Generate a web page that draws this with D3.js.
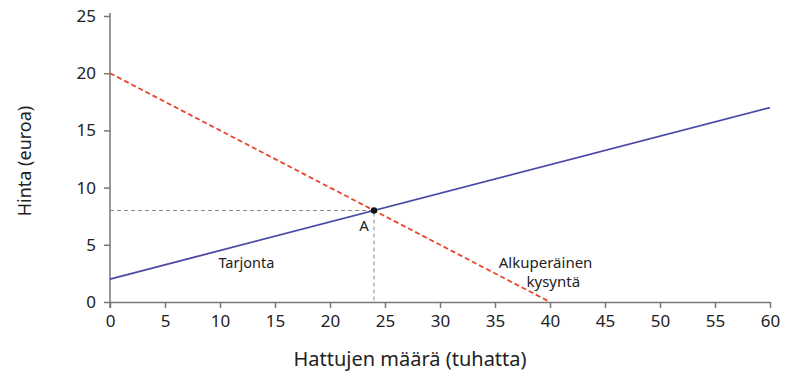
<!DOCTYPE html>
<html>
<head>
<meta charset="utf-8">
<script src="https://cdn.jsdelivr.net/npm/d3@7"></script>
<style>
  body { margin: 0; background: #fff; }
  svg text { font-family: "Noto Sans", "Open Sans", sans-serif; fill: #222; }
</style>
</head>
<body>
<svg id="chart" width="809" height="386"></svg>
<script>
// supply and demand lines (endpoints)
const supply = [{ x: 0, y: 2 }, { x: 60, y: 17 }]
const demand = [{ x: 0, y: 20 }, { x: 40, y: 0 }]
const pointA = { x: 24, y: 8, label: 'A' }
const xTicks = d3.range(0, 61, 5)
const yTicks = d3.range(0, 26, 5)

const svg = d3.select('#chart')
const x = d3.scaleLinear().domain([0, 60]).range([110, 770])
const y = d3.scaleLinear().domain([0, 25]).range([302, 16])

const axisColor = '#777'

// x axis
const gx = svg.append('g').attr('transform', `translate(0,${y(0)})`)
  .call(d3.axisBottom(x).tickValues(xTicks).tickSize(6).tickSizeOuter(0))
gx.select('.domain').attr('stroke', axisColor).attr('stroke-width', 1.5)
gx.selectAll('.tick line').attr('stroke', axisColor).attr('stroke-width', 1.5)
gx.selectAll('.tick text').attr('font-size', 17).attr('dy', '0.95em')
  .style('font-family', '"Noto Sans", sans-serif').attr('fill', '#222')

// y axis
const gy = svg.append('g').attr('transform', `translate(${x(0)},0)`)
  .call(d3.axisLeft(y).tickValues(yTicks).tickSize(6).tickSizeOuter(0))
gy.select('.domain').attr('stroke', axisColor).attr('stroke-width', 1.5)
  .attr('d', `M0,${y(0) + 6}V${y(25) - 3}`)
gy.selectAll('.tick line').attr('stroke', axisColor).attr('stroke-width', 1.5)
gy.selectAll('.tick text').attr('font-size', 17).attr('x', -14)
  .style('font-family', '"Noto Sans", sans-serif').attr('fill', '#222')

// axis titles
svg.append('text')
  .attr('x', 410).attr('y', 366)
  .attr('text-anchor', 'middle').attr('font-size', 20)
  .text('Hattujen määrä (tuhatta)')
svg.append('text')
  .attr('transform', 'translate(31,161) rotate(-90)')
  .attr('text-anchor', 'middle').attr('font-size', 18)
  .text('Hinta (euroa)')

// guide lines to point A
svg.append('path')
  .attr('d', `M${x(0)},${y(pointA.y)}H${x(pointA.x)}V${y(0)}`)
  .attr('fill', 'none').attr('stroke', '#888').attr('stroke-width', 1)
  .attr('stroke-dasharray', '4,3')

const line = d3.line().x(d => x(d.x)).y(d => y(d.y))

svg.append('path').datum(supply)
  .attr('d', line).attr('fill', 'none')
  .attr('stroke', '#4a4aa6').attr('stroke-width', 1.8)

svg.append('path').datum(demand)
  .attr('d', line).attr('fill', 'none')
  .attr('stroke', '#e8452c').attr('stroke-width', 1.8)
  .attr('stroke-dasharray', '5,3')

svg.append('circle')
  .attr('cx', x(pointA.x)).attr('cy', y(pointA.y)).attr('r', 3.2)
  .attr('fill', '#111')

svg.append('text')
  .attr('x', x(pointA.x) - 10).attr('y', y(pointA.y) + 21)
  .attr('text-anchor', 'middle').attr('font-size', 15)
  .text(pointA.label)

// line labels
svg.append('text')
  .attr('x', x(12.4)).attr('y', y(3))
  .attr('text-anchor', 'middle').attr('font-size', 14.5)
  .text('Tarjonta')
const dl = svg.append('text')
  .attr('text-anchor', 'middle').attr('font-size', 15)
dl.append('tspan').attr('x', x(39.6)).attr('y', y(3)).text('Alkuperäinen')
dl.append('tspan').attr('x', x(40.3)).attr('y', y(1.3)).text('kysyntä')
</script>
</body>
</html>
